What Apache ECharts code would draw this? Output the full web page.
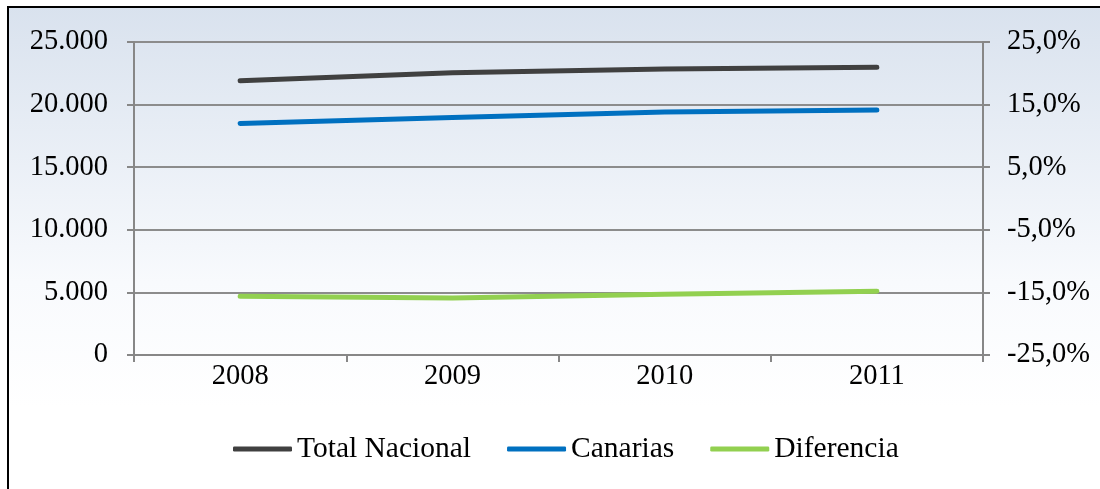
<!DOCTYPE html>
<html>
<head>
<meta charset="utf-8">
<script src="https://cdn.jsdelivr.net/npm/echarts@6/dist/echarts.min.js"></script>
<style>
html,body{margin:0;padding:0;background:#ffffff;}
#chart{width:1100px;height:489px;}
</style>
</head>
<body>
<div id="chart"></div>
<script>
const categories = ['2008', '2009', '2010', '2011'];
const totalNacional = [21900, 22550, 22850, 22980];
const canarias = [18500, 18970, 19400, 19570];
const diferencia = [-15.6, -15.9, -15.3, -14.8];

const FONT = "'Liberation Serif', 'Times New Roman', serif";
const AXIS_GRAY = '#878787';
const FS = 28.5;

const chart = echarts.init(document.getElementById('chart'), null, {renderer: 'canvas'});
const option = {
  animation: false,
  graphic: [{
    type: 'rect',
    z: -10,
    shape: {x: 8, y: 7, width: 1100, height: 500},
    style: {
      fill: {
        type: 'linear', x: 0, y: 0, x2: 0, y2: 1,
        colorStops: [
          {offset: 0, color: '#d9e2ee'},
          {offset: 0.55, color: '#f8fafd'},
          {offset: 0.8, color: '#ffffff'},
          {offset: 1, color: '#ffffff'}
        ]
      },
      stroke: '#000000',
      lineWidth: 2
    }
  }],
  grid: {left: 134, right: 117, top: 42, bottom: 134, containLabel: false},
  legend: {
    left: 233,
    top: 434,
    padding: 0,
    itemWidth: 59,
    itemHeight: 5,
    itemGap: 36,
    icon: 'roundRect',
    textStyle: {fontFamily: FONT, fontSize: 29.5, color: '#000'},
    data: ['Total Nacional', 'Canarias', 'Diferencia']
  },
  xAxis: {
    type: 'category',
    data: categories,
    boundaryGap: true,
    axisLine: {lineStyle: {color: AXIS_GRAY, width: 2}},
    axisTick: {show: true, length: 7, inside: false, lineStyle: {color: AXIS_GRAY, width: 2}},
    axisLabel: {fontFamily: FONT, fontSize: FS, color: '#000', margin: 7}
  },
  yAxis: [{
    type: 'value',
    min: 0, max: 25000, interval: 5000,
    position: 'left',
    axisLine: {show: true, lineStyle: {color: AXIS_GRAY, width: 2}},
    axisTick: {show: true, length: 7, inside: false, lineStyle: {color: AXIS_GRAY, width: 2}},
    splitLine: {show: true, lineStyle: {color: '#8c8c8c', width: 2}},
    axisLabel: {
      fontFamily: FONT, fontSize: FS, color: '#000', margin: 26,
      formatter: v => v === 0 ? '0' : String(v).replace(/\B(?=(\d{3})+(?!\d))/g, '.')
    }
  }, {
    type: 'value',
    min: -25, max: 25, interval: 10,
    position: 'right',
    axisLine: {show: true, lineStyle: {color: AXIS_GRAY, width: 2}},
    axisTick: {show: true, length: 7, inside: false, lineStyle: {color: AXIS_GRAY, width: 2}},
    splitLine: {show: false},
    axisLabel: {
      fontFamily: FONT, fontSize: FS, color: '#000', margin: 24,
      formatter: v => v.toFixed(1).replace('.', ',') + '%'
    }
  }],
  series: [{
    name: 'Total Nacional', type: 'line', data: totalNacional, yAxisIndex: 0,
    symbol: 'none', smooth: false,
    lineStyle: {color: '#404040', width: 5, cap: 'round'},
    itemStyle: {color: '#404040'}
  }, {
    name: 'Canarias', type: 'line', data: canarias, yAxisIndex: 0,
    symbol: 'none', smooth: false,
    lineStyle: {color: '#0070c0', width: 5, cap: 'round'},
    itemStyle: {color: '#0070c0'}
  }, {
    name: 'Diferencia', type: 'line', data: diferencia, yAxisIndex: 1,
    symbol: 'none', smooth: false,
    lineStyle: {color: '#92d050', width: 5, cap: 'round'},
    itemStyle: {color: '#92d050'}
  }]
};
chart.setOption(option);
</script>
</body>
</html>
